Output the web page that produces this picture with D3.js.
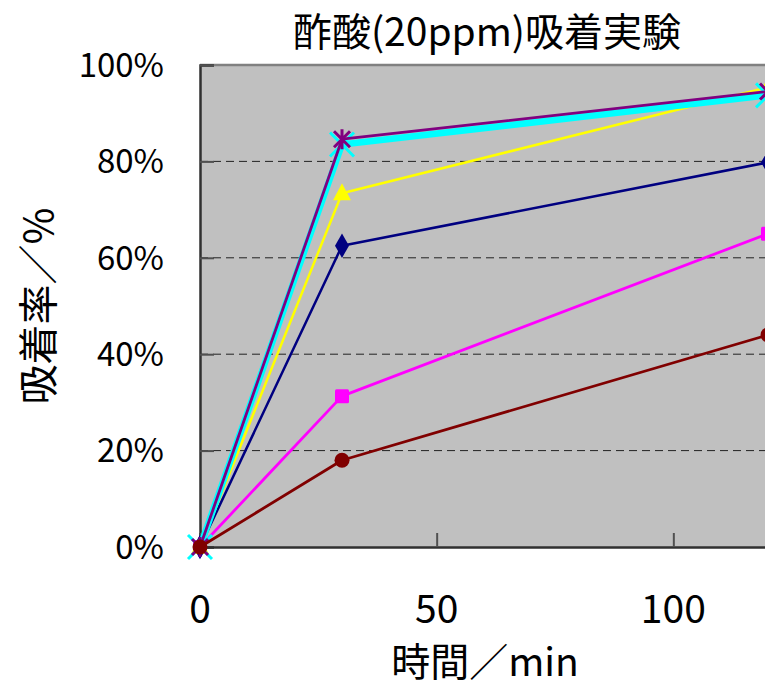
<!DOCTYPE html>
<html>
<head>
<meta charset="utf-8">
<script src="https://cdn.jsdelivr.net/npm/d3@7"></script>
<style>
  html, body { margin: 0; padding: 0; background: #fff; }
  svg { display: block; }
  text { font-family: "Noto Sans CJK JP", "Noto Sans", sans-serif; fill: #000; }
</style>
</head>
<body>
<svg id="chart" width="765" height="688"></svg>
<script>
// Sampling times (min)
const times = [0, 30, 120];

// Adsorption ratio (%) per series, in drawing order
const seriesNames = ["s1", "s2", "s3", "s4", "s5", "s6"];
const navyValues    = [0, 62.5, 79.8];
const magentaValues = [0, 31.3, 65.0];
const yellowValues  = [0, 73.4, 95.4];
const cyanValues    = [0, 83.5, 93.7];
const purpleValues  = [0, 84.6, 94.5];
const maroonValues  = [0, 18.0, 44.0];

const xTicks = [0, 50, 100];
const yTicks = [0, 20, 40, 60, 80, 100];

const titleText = "酢酸(20ppm)吸着実験";
const xTitle = "時間／min";
const yTitle = "吸着率／%";

const series = [
  { name: seriesNames[0], values: navyValues,    color: "#000080", width: 2.5, marker: "diamond" },
  { name: seriesNames[1], values: magentaValues, color: "#FF00FF", width: 2.8, marker: "square" },
  { name: seriesNames[2], values: yellowValues,  color: "#FFFF00", width: 2.5, marker: "triangle" },
  { name: seriesNames[3], values: cyanValues,    color: "#00FFFF", width: 6.5, marker: "x" },
  { name: seriesNames[4], values: purpleValues,  color: "#800080", width: 2.8, marker: "asterisk" },
  { name: seriesNames[5], values: maroonValues,  color: "#800000", width: 2.8, marker: "circle" }
];

const svg = d3.select("#chart");
const plot = { left: 200, top: 65, right: 910, bottom: 547 };

const x = d3.scaleLinear().domain([0, 150]).range([plot.left, plot.right]);
const y = d3.scaleLinear().domain([0, 100]).range([plot.bottom, plot.top]);

// Plot background
svg.append("rect")
  .attr("x", plot.left).attr("y", plot.top)
  .attr("width", plot.right - plot.left).attr("height", plot.bottom - plot.top)
  .attr("fill", "#C0C0C0");

// Dashed horizontal gridlines
svg.append("g")
  .selectAll("line")
  .data(yTicks.filter(v => v > 0 && v < 100))
  .join("line")
  .attr("x1", plot.left).attr("x2", plot.right)
  .attr("y1", d => y(d)).attr("y2", d => y(d))
  .attr("stroke", "#222").attr("stroke-width", 1)
  .attr("stroke-dasharray", "8,5");

// Top border
svg.append("line")
  .attr("x1", plot.left).attr("x2", plot.right)
  .attr("y1", plot.top).attr("y2", plot.top)
  .attr("stroke", "#808080").attr("stroke-width", 2.5);

// Y axis (ticks pointing into the plot)
const yAxis = svg.append("g")
  .attr("transform", `translate(${plot.left},0)`)
  .call(d3.axisRight(y).tickValues(yTicks).tickSize(14).tickFormat(""));
yAxis.select(".domain").attr("stroke", "#303030").attr("stroke-width", 2.5);
yAxis.selectAll(".tick line").attr("stroke", "#505050").attr("stroke-width", 2);

// X axis (ticks pointing into the plot)
const xAxis = svg.append("g")
  .attr("transform", `translate(0,${plot.bottom})`)
  .call(d3.axisTop(x).tickValues(xTicks).tickSize(14).tickFormat(""));
xAxis.select(".domain").attr("stroke", "#303030").attr("stroke-width", 2.5);
xAxis.selectAll(".tick line").attr("stroke", "#505050").attr("stroke-width", 2);

// Tick labels
svg.append("g")
  .selectAll("text")
  .data(yTicks)
  .join("text")
  .attr("x", 164)
  .attr("y", d => y(d))
  .attr("dy", "0.36em")
  .attr("text-anchor", "end")
  .attr("font-size", 33)
  .text(d => d + "%");

svg.append("g")
  .selectAll("text")
  .data(xTicks)
  .join("text")
  .attr("x", d => x(d))
  .attr("y", 623)
  .attr("text-anchor", "middle")
  .attr("font-size", 39)
  .text(d => d);

// Series lines and markers
const line = d3.line()
  .x((d, i) => x(times[i]))
  .y(d => y(d));

function drawMarker(g, type, color) {
  if (type === "diamond") {
    g.append("path").attr("d", d3.symbol(d3.symbolDiamond, 170)()).attr("fill", color);
  } else if (type === "square") {
    g.append("rect").attr("x", -7).attr("y", -7).attr("width", 14).attr("height", 14)
      .attr("rx", 1.5).attr("fill", color);
  } else if (type === "triangle") {
    g.append("path").attr("d", "M0,-10 L9,7 L-9,7 Z").attr("fill", color);
  } else if (type === "x") {
    g.append("path").attr("d", "M-12,-12 L12,12 M-12,12 L12,-12")
      .attr("stroke", color).attr("stroke-width", 3);
  } else if (type === "asterisk") {
    g.append("path").attr("d", "M-8,-8 L8,8 M-8,8 L8,-8 M0,-10 L0,10")
      .attr("stroke", color).attr("stroke-width", 3);
  } else if (type === "circle") {
    g.append("circle").attr("r", 7.5).attr("fill", color);
  }
}

series.forEach(s => {
  const g = svg.append("g");
  g.append("path")
    .datum(s.values)
    .attr("d", line)
    .attr("fill", "none")
    .attr("stroke", s.color)
    .attr("stroke-width", s.width)
    .attr("stroke-linejoin", "round");
  s.values.forEach((v, i) => {
    const m = g.append("g").attr("transform", `translate(${x(times[i])},${y(v)})`);
    drawMarker(m, s.marker, s.color);
  });
});

// Titles
svg.append("text")
  .attr("x", 487).attr("y", 46)
  .attr("text-anchor", "middle")
  .attr("font-size", 39)
  .text(titleText);

svg.append("text")
  .attr("x", 485).attr("y", 676)
  .attr("text-anchor", "middle")
  .attr("font-size", 39)
  .text(xTitle);

svg.append("text")
  .attr("transform", "translate(53,306) rotate(-90)")
  .attr("text-anchor", "middle")
  .attr("font-size", 40)
  .text(yTitle);
</script>
</body>
</html>
